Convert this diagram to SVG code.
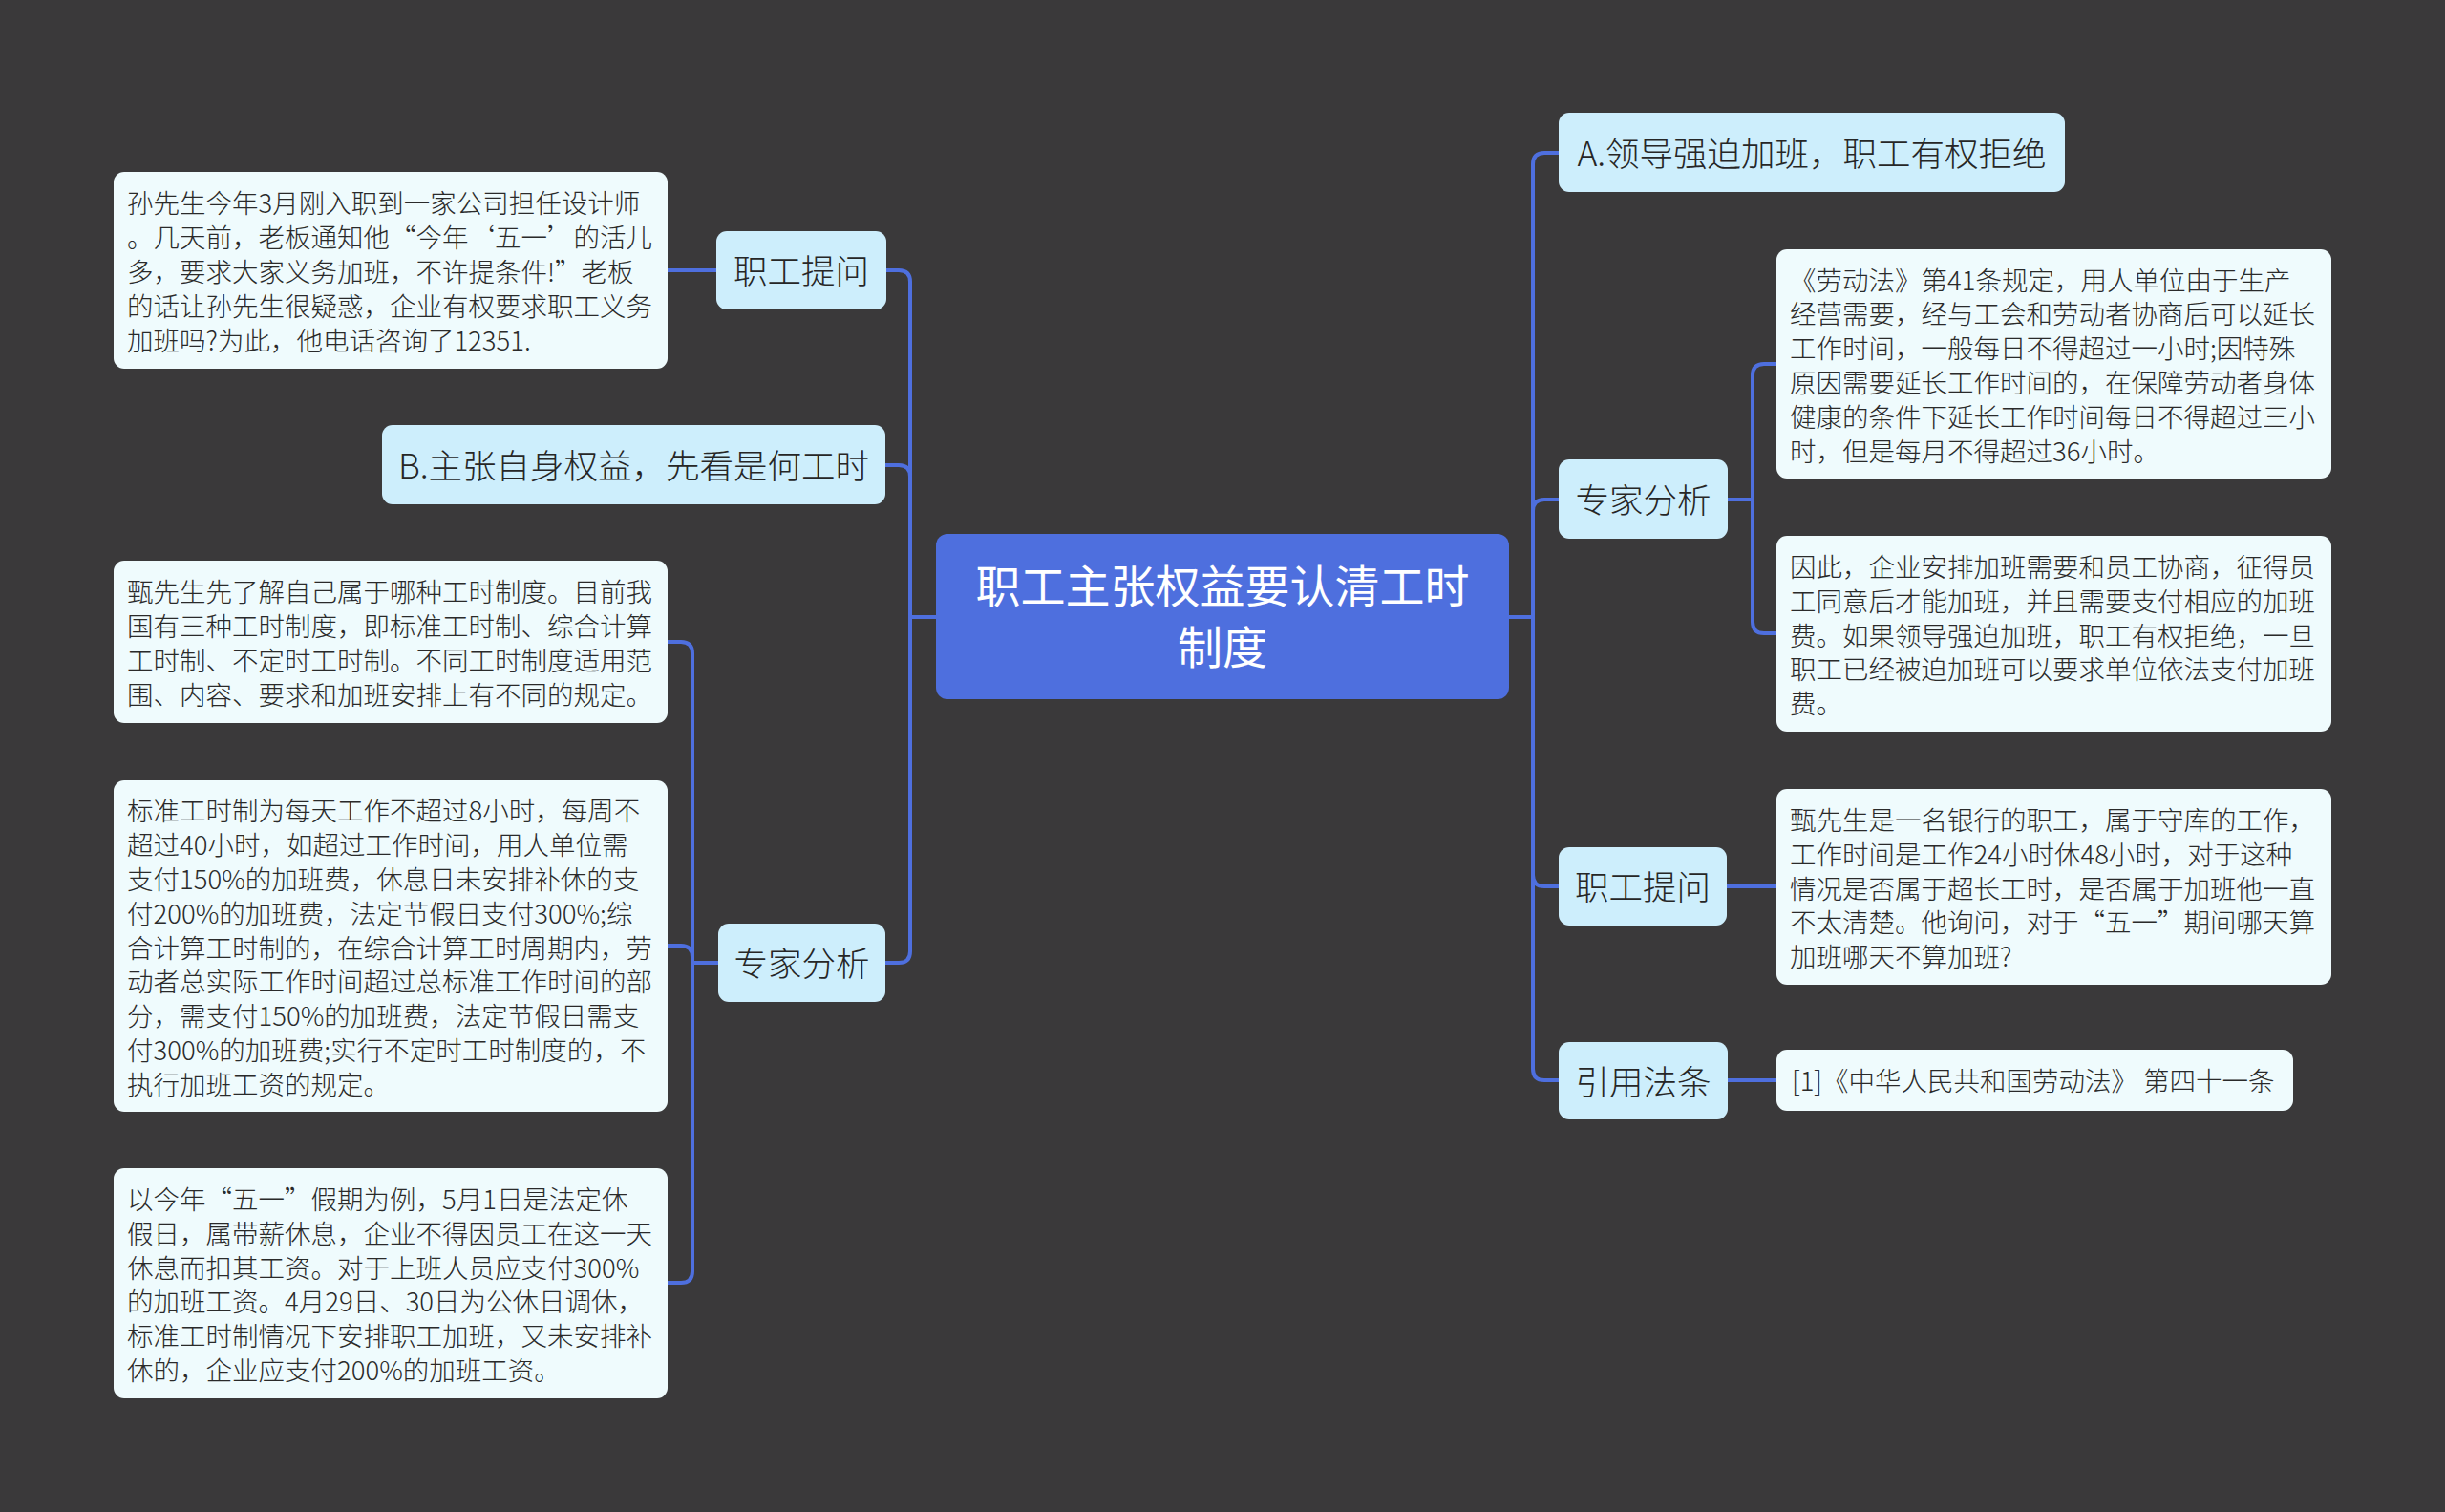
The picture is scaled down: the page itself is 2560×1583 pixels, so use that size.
<svg xmlns="http://www.w3.org/2000/svg" width="2560" height="1583" viewBox="0 0 2560 1583">
<style>
.bg{fill:#3a393a}
.edge{fill:none;stroke:#4e6fde;stroke-width:4;stroke-linecap:round;stroke-linejoin:round}
.root{fill:#4e6fde}
.l1{fill:#cdeefc}
.leaf{fill:#effbfd}
text{font-family:"Noto Sans CJK SC","Noto Sans",sans-serif}
.rt{font-size:47px;fill:#ffffff;text-anchor:middle}
.t1{font-size:35.5px;fill:#262626;text-anchor:middle;font-weight:300}
.t2{font-size:27.5px;fill:#2a2a2a;font-weight:300}
</style>
<rect class="bg" x="0" y="0" width="2560" height="1583"/>
<g id="connectors">
<path class="edge" d="M980 646 H953 V295 Q953 283 941 283 H928"/>
<path class="edge" d="M980 646 H953 V499 Q953 487 941 487 H927"/>
<path class="edge" d="M980 646 H953 V996 Q953 1008 941 1008 H927"/>
<path class="edge" d="M750 283 H699"/>
<path class="edge" d="M752 1008 H725 V684 Q725 672 713 672 H699"/>
<path class="edge" d="M752 1008 H725 V1002 Q725 990 713 990 H699"/>
<path class="edge" d="M752 1008 H725 V1331 Q725 1343 713 1343 H699"/>
<path class="edge" d="M1580 646 H1605 V172 Q1605 160 1617 160 H1632"/>
<path class="edge" d="M1580 646 H1605 V535 Q1605 523 1617 523 H1632"/>
<path class="edge" d="M1580 646 H1605 V916 Q1605 928 1617 928 H1632"/>
<path class="edge" d="M1580 646 H1605 V1119 Q1605 1131 1617 1131 H1632"/>
<path class="edge" d="M1809 523 H1835 V393 Q1835 381 1847 381 H1860"/>
<path class="edge" d="M1809 523 H1835 V651 Q1835 663 1847 663 H1860"/>
<path class="edge" d="M1808 928 H1860"/>
<path class="edge" d="M1809 1131 H1860"/>
</g>
<g id="root">
<rect class="root" x="980" y="559" width="600" height="173" rx="12"/>
<text class="rt" x="1280" y="631">职工主张权益要认清工时</text>
<text class="rt" x="1280" y="695">制度</text>
</g>
<g id="n-l-question">
<rect class="l1" x="750" y="242" width="178" height="82" rx="11"/>
<text class="t1" x="839" y="297">职工提问</text>
</g>
<g id="n-l-question-leaf">
<rect class="leaf" x="119" y="180" width="580" height="206" rx="11"/>
<text class="t2" x="133" y="223.4">孙先生今年3月刚入职到一家公司担任设计师<tspan x="133" dy="35.8">。几天前，老板通知他“今年‘五一’的活儿</tspan><tspan x="133" dy="35.8">多，要求大家义务加班，不许提条件!”老板</tspan><tspan x="133" dy="35.8">的话让孙先生很疑惑，企业有权要求职工义务</tspan><tspan x="133" dy="35.8">加班吗?为此，他电话咨询了12351.</tspan></text>
</g>
<g id="n-l-b">
<rect class="l1" x="400" y="445" width="527" height="83" rx="11"/>
<text class="t1" x="663.5" y="501">B.主张自身权益，先看是何工时</text>
</g>
<g id="n-l-expert">
<rect class="l1" x="752" y="967" width="175" height="82" rx="11"/>
<text class="t1" x="839.5" y="1022">专家分析</text>
</g>
<g id="n-l-expert-1">
<rect class="leaf" x="119" y="587" width="580" height="170" rx="11"/>
<text class="t2" x="133" y="630.3">甄先生先了解自己属于哪种工时制度。目前我<tspan x="133" dy="35.8">国有三种工时制度，即标准工时制、综合计算</tspan><tspan x="133" dy="35.8">工时制、不定时工时制。不同工时制度适用范</tspan><tspan x="133" dy="35.8">围、内容、要求和加班安排上有不同的规定。</tspan></text>
</g>
<g id="n-l-expert-2">
<rect class="leaf" x="119" y="817" width="580" height="347" rx="11"/>
<text class="t2" x="133" y="859.3">标准工时制为每天工作不超过8小时，每周不<tspan x="133" dy="35.8">超过40小时，如超过工作时间，用人单位需</tspan><tspan x="133" dy="35.8">支付150%的加班费，休息日未安排补休的支</tspan><tspan x="133" dy="35.8">付200%的加班费，法定节假日支付300%;综</tspan><tspan x="133" dy="35.8">合计算工时制的，在综合计算工时周期内，劳</tspan><tspan x="133" dy="35.8">动者总实际工作时间超过总标准工作时间的部</tspan><tspan x="133" dy="35.8">分，需支付150%的加班费，法定节假日需支</tspan><tspan x="133" dy="35.8">付300%的加班费;实行不定时工时制度的，不</tspan><tspan x="133" dy="35.8">执行加班工资的规定。</tspan></text>
</g>
<g id="n-l-expert-3">
<rect class="leaf" x="119" y="1223" width="580" height="241" rx="11"/>
<text class="t2" x="133" y="1266">以今年“五一”假期为例，5月1日是法定休<tspan x="133" dy="35.8">假日，属带薪休息，企业不得因员工在这一天</tspan><tspan x="133" dy="35.8">休息而扣其工资。对于上班人员应支付300%</tspan><tspan x="133" dy="35.8">的加班工资。4月29日、30日为公休日调休，</tspan><tspan x="133" dy="35.8">标准工时制情况下安排职工加班，又未安排补</tspan><tspan x="133" dy="35.8">休的，企业应支付200%的加班工资。</tspan></text>
</g>
<g id="n-r-a">
<rect class="l1" x="1632" y="118" width="530" height="83" rx="11"/>
<text class="t1" x="1897" y="174">A.领导强迫加班，职工有权拒绝</text>
</g>
<g id="n-r-expert">
<rect class="l1" x="1632" y="481" width="177" height="83" rx="11"/>
<text class="t1" x="1720.5" y="537">专家分析</text>
</g>
<g id="n-r-expert-1">
<rect class="leaf" x="1860" y="261" width="581" height="240" rx="11"/>
<text class="t2" x="1874" y="303.5">《劳动法》第41条规定，用人单位由于生产<tspan x="1874" dy="35.8">经营需要，经与工会和劳动者协商后可以延长</tspan><tspan x="1874" dy="35.8">工作时间，一般每日不得超过一小时;因特殊</tspan><tspan x="1874" dy="35.8">原因需要延长工作时间的，在保障劳动者身体</tspan><tspan x="1874" dy="35.8">健康的条件下延长工作时间每日不得超过三小</tspan><tspan x="1874" dy="35.8">时，但是每月不得超过36小时。</tspan></text>
</g>
<g id="n-r-expert-2">
<rect class="leaf" x="1860" y="561" width="581" height="205" rx="11"/>
<text class="t2" x="1874" y="603.9">因此，企业安排加班需要和员工协商，征得员<tspan x="1874" dy="35.8">工同意后才能加班，并且需要支付相应的加班</tspan><tspan x="1874" dy="35.8">费。如果领导强迫加班，职工有权拒绝，一旦</tspan><tspan x="1874" dy="35.8">职工已经被迫加班可以要求单位依法支付加班</tspan><tspan x="1874" dy="35.8">费。</tspan></text>
</g>
<g id="n-r-question">
<rect class="l1" x="1632" y="887" width="176" height="82" rx="11"/>
<text class="t1" x="1720" y="942">职工提问</text>
</g>
<g id="n-r-question-leaf">
<rect class="leaf" x="1860" y="826" width="581" height="205" rx="11"/>
<text class="t2" x="1874" y="868.9">甄先生是一名银行的职工，属于守库的工作，<tspan x="1874" dy="35.8">工作时间是工作24小时休48小时，对于这种</tspan><tspan x="1874" dy="35.8">情况是否属于超长工时，是否属于加班他一直</tspan><tspan x="1874" dy="35.8">不太清楚。他询问，对于“五一”期间哪天算</tspan><tspan x="1874" dy="35.8">加班哪天不算加班?</tspan></text>
</g>
<g id="n-r-law">
<rect class="l1" x="1632" y="1091" width="177" height="81" rx="11"/>
<text class="t1" x="1720.5" y="1145.5">引用法条</text>
</g>
<g id="n-r-law-leaf">
<rect class="leaf" x="1860" y="1099" width="541" height="64" rx="11"/>
<text class="t2" x="1876" y="1142">[1]《中华人民共和国劳动法》 第四十一条</text>
</g>
</svg>
